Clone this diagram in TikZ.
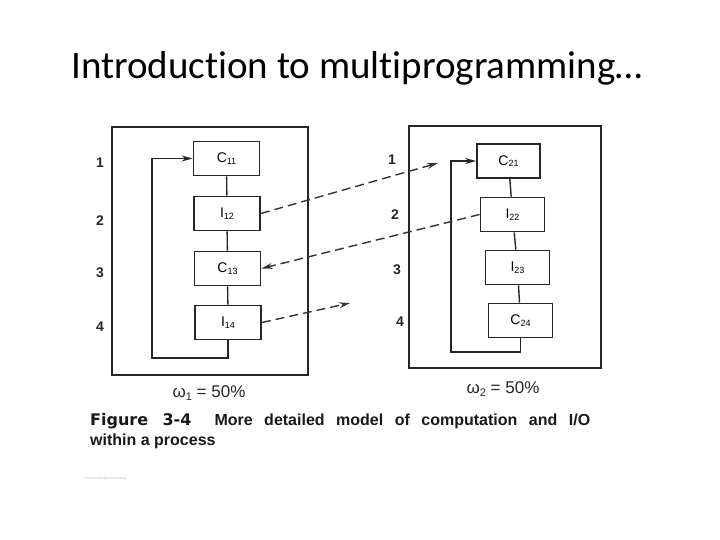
\documentclass[tikz,border=0pt]{standalone}
\usepackage{fontspec}
\setmainfont{Liberation Sans}
\newfontfamily\titlefont[Ligatures=NoCommon]{Carlito}
\newfontfamily\heavyfont{DejaVu Sans}
\usetikzlibrary{arrows.meta}
\begin{document}
\begin{tikzpicture}[x=1pt,y=-1pt,
  frame/.style={draw=black!85,line width=2pt},
  blk/.style={draw=black!85,line width=1.8pt,minimum width=66pt,minimum height=34pt,inner sep=0pt,font=\fontsize{14}{14}\selectfont},
  link/.style={draw=black!85,line width=1.4pt},
  dashlink/.style={draw=black!80,line width=1.4pt,dash pattern=on 9pt off 5pt},
  tip/.style={-{Stealth[length=11pt,width=6pt]}},
  rownum/.style={font=\bfseries\fontsize{14}{14}\selectfont,text=black!85},
  pct/.style={font=\fontsize{17}{17}\selectfont,text=black!85}]
\useasboundingbox (0,0) rectangle (720,540);
\newcommand{\sbs}[1]{\raisebox{-1.5pt}{\fontsize{9}{9}\selectfont #1}}
\newcommand{\sbw}[1]{\raisebox{-2.5pt}{\fontsize{11}{11}\selectfont #1}}
% title
\node[font=\titlefont\fontsize{39}{40}\selectfont, anchor=center] (title) at (357,68) {Introduction to multiprogramming…};
% frames
\node[frame,minimum width=196pt,minimum height=248pt,inner sep=0pt] (F1) at (210,251) {};
\node[frame,minimum width=192pt,minimum height=242pt,inner sep=0pt] (F2) at (505,247) {};
% left boxes
\node[blk] (C11) at (226.5,158.5) {C\sbs{11}};
\node[blk] (I12) at (227,213.5) {I\sbs{12}};
\node[blk] (C13) at (227.5,268.5) {C\sbs{13}};
\node[blk] (I14) at (228,322.5) {I\sbs{14}};
% right boxes
\node[blk,minimum width=63pt] (C21) at (508.5,161) {C\sbs{21}};
\node[blk,minimum width=64pt] (I22) at (512.5,214.5) {I\sbs{22}};
\node[blk,minimum width=64pt] (I23) at (517.5,267.5) {I\sbs{23}};
\node[blk,minimum width=64pt] (C24) at (520.5,320.5) {C\sbs{24}};
% chains
\draw[link] (C11) -- (I12); \draw[link] (I12) -- (C13); \draw[link] (C13) -- (I14);
\draw[link] (C21) -- (I22); \draw[link] (I22) -- (I23); \draw[link] (I23) -- (C24);
% loops
\coordinate (LL) at (152,358);
\coordinate (RL) at (451,352);
\draw[link,tip] (I14.south) |- (LL) |- (C11.west);
\draw[link,tip] (C24.south) |- (RL) |- (C21.west);
% dashed links
\coordinate (A1) at (438,163);
\coordinate (A3) at (350,303);
\draw[dashlink,tip] (I12.east) -- (A1);
\draw[dashlink,tip] (I22.west) -- (C13.east);
\draw[dashlink,tip] (I14.east) -- (A3);
% row numbers
\node[rownum] (l1) at (100,163) {1};
\node[rownum] (l2) at (100,221) {2};
\node[rownum] (l3) at (100,273) {3};
\node[rownum] (l4) at (100,327) {4};
\node[rownum] (r1) at (392,160) {1};
\node[rownum] (r2) at (395,215) {2};
\node[rownum] (r3) at (397,270) {3};
\node[rownum] (r4) at (400,322) {4};
% percentages
\node[pct] (w1) at (209,393) {ω\sbw{1} = 50\%};
\node[pct] (w2) at (503,389) {ω\sbw{2} = 50\%};
% caption
\node[anchor=west,inner sep=0pt,text=black!90,font=\bfseries\fontsize{16}{16}\selectfont] (cap1) at (90,421) {\makebox[500pt][s]{{\heavyfont\bfseries Figure 3-4}\ \ More detailed model of computation and I/O}};
\node[anchor=west,inner sep=0pt,text=black!90,font=\bfseries\fontsize{16}{16}\selectfont] (cap2) at (90,441) {within a process};
\node[anchor=west,inner sep=1pt,text=black!35,font=\fontsize{3}{3}\selectfont] (cs) at (84,478) {CS Scanned with CamScanner};
\end{tikzpicture}
\end{document}
